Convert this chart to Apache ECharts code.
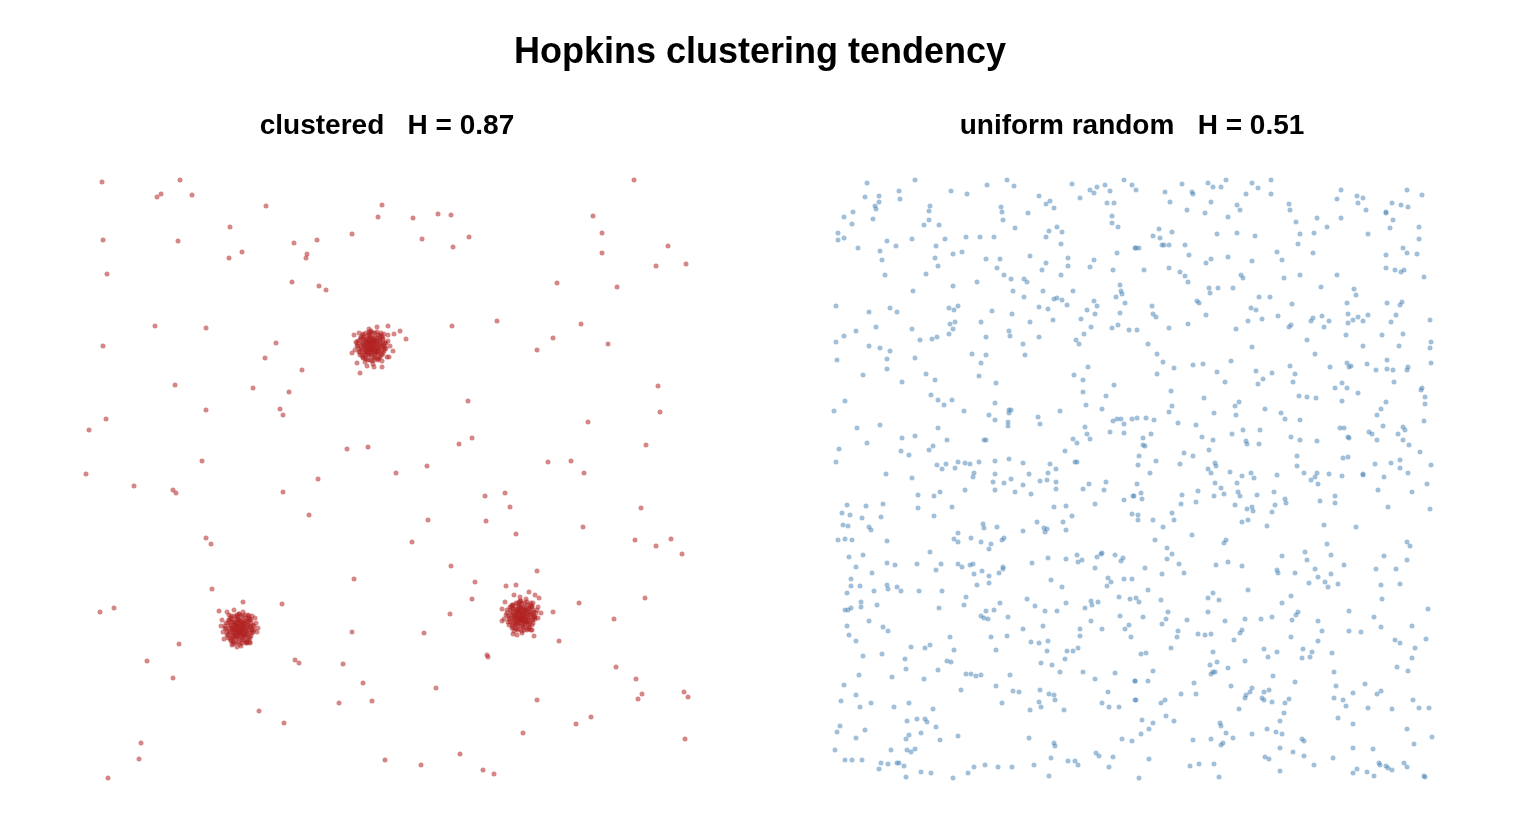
<!DOCTYPE html>
<html><head><meta charset="utf-8">
<script src="https://cdn.jsdelivr.net/npm/echarts@6/dist/echarts.min.js"></script>
<style>html,body{margin:0;padding:0;background:#fff}#c{width:1520px;height:840px}</style>
</head><body><div id="c"></div>
<script>
const mainTitle = "Hopkins clustering tendency";
const panelTitles = ["clustered   H = 0.87", "uniform random   H = 0.51"];

// clustered panel: background points
const clusteredBackground = [
[17,596],[95,598],[72,581],[76,584],[107,583],[181,572],[297,573],[293,561],[145,551],[267,544],[18,538],[93,537],[209,535],[232,538],[157,526],[144,520],[222,524],[221,520],[22,504],[207,496],[234,492],[241,488],[70,452],[121,450],[18,432],[191,435],[180,420],[217,408],[90,393],[168,390],[204,386],[121,368],[195,369],[198,363],[21,359],[4,348],[262,329],[283,331],[117,317],[1,304],
[549,598],[328,560],[353,564],[366,563],[337,539],[384,541],[368,531],[508,562],[517,545],[517,525],[583,532],[571,512],[601,514],[472,495],[532,491],[412,457],[367,452],[496,454],[468,440],[452,428],[523,434],[573,392],[575,366],[503,356],[383,377],[387,340],[374,334],[561,333],[342,312],[463,316],[486,317],[499,305],[311,305],
[49,292],[88,288],[91,285],[198,286],[233,299],[224,263],[121,240],[126,234],[269,199],[127,189],[158,176],[197,174],[15,166],[29,170],[267,146],[94,134],[62,117],[210,118],[214,115],[258,114],[88,100],[278,95],[254,75],[287,77],[174,67],[199,55],[56,35],[54,19],[23,0],[300,18],
[400,282],[420,285],[425,271],[556,270],[343,258],[401,257],[498,251],[327,236],[431,244],[550,238],[586,239],[571,232],[597,224],[366,212],[452,207],[390,196],[421,192],[431,193],[387,179],[560,180],[365,164],[494,175],[468,166],[529,159],[339,145],[474,137],[402,123],[403,121],[531,111],[551,99],[351,90],[557,84],[553,79],[599,86],[603,81],[452,78],[506,61],[491,54],[438,45],[600,39],[375,24],[336,13],[398,8],[409,4]
];
const clusterA = [
[287,431],[283,428],[290,434],[279,433],[294,429],[286,437],[282,424],[291,425],[276,430],[297,433],
[285,440],[289,421],[280,438],[295,438],[274,426],[299,427],[288,445],[278,420],[293,418],[284,434],
[281,430],[292,430],[286,426],[288,436],[277,435],[296,424],[283,443],[300,435],[272,432],[290,441],
[285,418],[279,425],[294,434],[287,428],[282,436],[291,437],[276,440],[298,440],[284,423],[289,429],
[273,437],[301,430],[286,446],[280,416],[295,421],[270,428],[303,437],[288,414],[278,444],[297,417],
[283,432],[292,427],[287,439],[281,427],[290,420],[275,423],[299,444],[285,429],[293,443],[279,441],
[269,443],[274,445],[267,425],[272,415],[275,405],[282,412],[297,411],[292,451],[303,452],[303,443],
[302,421],[309,444],[315,447],[321,439],[308,427],[304,421],[271,436],[305,432],[284,449],[289,411]
];
const clusterACore = [
[287,432],[284,435],[290,429],[282,431],[292,434],[286,428],[289,437],[281,436],[293,430],[285,425],
[288,440],[279,429],[295,436],[283,439],[291,426],[286,433],[280,433],[294,427],[287,424],[284,429],
[290,438],[282,427],[296,431],[285,436],[289,432],[278,435],[292,440],[283,425],[297,428],[286,441],
[281,439],[293,424],[288,427],[279,431],[295,433],[284,442],[290,423],[277,428],[298,435],[287,435],
[282,434],[291,432],[285,431],[288,430],[283,436],[289,426],[280,426],[294,439],[286,422],[292,437],
[276,433],[299,431],[284,438],[290,435],[287,429],[281,423],[296,441],[278,439],[293,426],[285,444],
[299,432],[298,438],[295,443],[290,445],[284,446],[278,443],[275,438],[273,432],[275,426],[278,421],
[283,418],[289,418],[294,420],[298,425],[300,429],[297,442],[292,446],[281,445],[276,441],[274,429],
[277,423],[281,419],[287,417],[293,419],[297,423],[301,435],[286,447],[272,435],[280,420],[296,445]
];
const clusterB = [
[155,148],[151,145],[158,151],[147,150],[162,146],[154,155],[150,141],[159,142],[144,147],[165,151],
[153,158],[157,138],[148,156],[163,156],[142,143],[167,145],[156,162],[146,137],[161,135],[152,152],
[149,148],[160,148],[154,144],[156,153],[145,153],[164,141],[151,161],[168,153],[140,150],[158,158],
[153,136],[147,142],[162,152],[155,145],[150,154],[159,155],[144,158],[166,158],[152,140],[157,147],
[141,155],[169,148],[154,164],[148,134],[163,138],[138,146],[171,155],[156,132],[146,162],[165,135],
[151,149],[160,144],[155,157],[149,145],[158,138],[143,140],[167,162],[153,147],[161,160],[147,159],
[134,167],[142,166],[149,168],[172,146],[147,133],[137,158],[162,135],[165,136],[139,139],[170,160],
[158,166],[144,163],[152,131],[173,150],[136,152],[163,163]
];
const clusterBCore = [
[155,149],[152,152],[158,146],[150,148],[160,151],[154,145],[157,154],[149,153],[161,147],[153,142],
[156,157],[147,146],[163,153],[151,156],[159,143],[154,150],[148,150],[162,144],[155,141],[152,146],
[158,155],[150,144],[164,148],[153,153],[157,149],[146,152],[160,157],[151,142],[165,145],[154,158],
[149,156],[161,141],[156,144],[147,148],[163,150],[152,159],[158,140],[145,145],[166,152],[155,152],
[150,151],[159,149],[153,148],[156,147],[151,153],[157,143],[148,142],[162,156],[154,139],[160,154],
[144,150],[167,148],[152,155],[158,152],[155,146],[149,140],[164,158],[146,156],[161,143],[153,161],
[167,149],[166,155],[163,160],[158,162],[152,163],[146,160],[143,155],[141,149],[143,143],[146,138],
[151,135],[157,135],[162,137],[166,142],[168,146],[165,159],[160,163],[149,162],[144,158],[142,146],
[145,140],[149,136],[155,134],[161,136],[165,140],[169,152],[154,164],[140,152],[148,137],[164,162]
];
const clusterC = [
[436,161],[432,158],[439,164],[428,163],[443,159],[435,168],[431,154],[440,155],[425,160],[446,164],
[434,171],[438,151],[429,169],[444,169],[423,156],[448,158],[437,175],[427,150],[442,148],[433,165],
[430,161],[441,161],[435,157],[437,166],[426,166],[445,154],[432,174],[449,166],[421,163],[439,171],
[434,149],[428,155],[443,165],[436,158],[431,167],[440,168],[425,171],[447,171],[433,153],[438,160],
[422,168],[450,161],[435,177],[429,147],[444,151],[419,159],[452,168],[437,145],[427,173],[446,148],
[432,162],[441,157],[436,170],[430,158],[439,151],[424,153],[448,175],[434,160],[442,173],[428,172],
[429,183],[435,181],[444,186],[450,183],[454,180],[453,171],[453,160],[449,142],[428,144],[417,157],
[417,169],[432,143],[447,148],[420,176],[456,165],[441,179]
];
const clusterCCore = [
[437,162],[434,165],[440,159],[432,161],[442,164],[436,158],[439,167],[431,166],[443,160],[435,155],
[438,170],[429,159],[445,166],[433,169],[441,156],[436,163],[430,163],[444,157],[437,154],[434,159],
[440,168],[432,157],[446,161],[435,166],[439,162],[428,165],[442,170],[433,155],[447,158],[436,171],
[431,169],[443,154],[438,157],[429,161],[445,163],[434,172],[440,153],[427,158],[448,165],[437,165],
[432,164],[441,162],[435,161],[438,160],[433,166],[439,156],[430,155],[444,169],[436,152],[442,167],
[426,163],[449,161],[434,168],[440,165],[437,159],[431,153],[446,171],[428,169],[443,156],[435,174],
[449,162],[448,168],[445,173],[440,175],[434,176],[428,173],[425,168],[423,162],[425,156],[428,151],
[433,148],[439,148],[444,150],[448,155],[450,159],[447,172],[442,176],[431,175],[426,171],[424,159],
[427,153],[431,149],[437,147],[443,149],[447,153],[451,165],[436,177],[422,165],[430,150],[446,175]
];

// uniform panel, by quadrant
const uniformQ1 = [
[35,595],[83,598],[33,581],[47,582],[47,576],[43,572],[44,569],[67,587],[68,579],[119,587],[135,584],[155,593],[175,598],[182,592],[207,582],[214,574],[218,577],[222,570],[240,594],[248,580],[258,588],[262,585],[265,591],[273,593],[278,587],[275,575],[282,575],[292,598],[300,593],
[12,561],[21,566],[20,554],[6,545],[6,538],[12,540],[41,559],[98,572],[97,567],[97,558],[92,553],[107,553],[169,571],[170,566],[171,558],[183,550],[196,565],[217,547],[225,551],[230,546],[214,541],[280,562],[280,555],[286,551],
[26,530],[55,537],[64,532],[48,527],[50,518],[80,539],[113,539],[104,532],[103,520],[106,512],[121,524],[130,526],[134,541],[148,541],[162,541],[154,519],[168,519],[165,510],[198,522],[214,515],[210,508],[229,534],[236,520],[236,512],[229,503],[262,518],[258,511],[285,525],[281,508],[303,530],
[53,503],[94,504],[81,487],[121,492],[145,496],[172,503],[179,499],[181,487],[192,499],[195,496],[192,481],[211,487],[222,479],[225,480],[230,478],[241,487],[235,473],[207,471],[216,469],[262,477],[265,472],[255,468],[263,464],[288,493],[289,487],[290,484],[284,481],[293,475],[288,465],
[4,472],[37,466],[58,470],[65,466],[44,451],[24,447],[12,442],[80,449],[117,470],[122,468],[126,472],[118,454],[123,456],[121,449],[117,444],[149,456],[160,467],[180,464],[198,456],[221,458],[177,447],[178,442],[154,441],[207,441],[249,459],[259,451],[252,444],[280,450],[286,453],[297,448],
[4,436],[37,432],[48,430],[58,427],[55,419],[55,409],[5,418],[88,438],[100,439],[105,441],[83,420],[140,424],[154,423],[149,415],[191,434],[193,423],[244,438],[247,434],[256,411],
[31,403],[70,396],[94,404],[103,398],[147,402],[164,395],[99,383],[106,378],[112,373],[120,378],[163,375],[242,403],[251,398],[251,386],[282,393],[274,382],[254,373],[13,377],[2,367],
[25,350],[48,353],[132,367],[157,363],[163,358],[177,368],[179,368],[177,365],[176,356],[176,352],[206,361],[208,354],[228,367],[270,369],[281,357],[285,359],[289,359],[300,359],[292,354],[278,346],[292,345],[253,351],[255,344],[70,340],[83,342],[106,350],
[7,329],[35,335],[4,316],[69,327],[77,323],[97,328],[101,332],[115,338],[152,338],[154,338],[105,313],[110,309],[114,314],[123,310],[126,316],[133,315],[138,314],[147,316],[163,317],[177,319],[191,315],[218,314],[224,309],[233,327],[241,339],[245,335],[258,339],[243,316],[245,316],[54,304],[142,305],[163,304],[197,304],[216,305]
];
const uniformQ2 = [
[304,588],[333,586],[338,576],[350,594],[360,586],[361,584],[355,568],[376,595],[381,591],[389,591],[394,598],[379,576],[373,565],[396,561],[405,573],[408,568],[414,584],[420,595],[426,590],[439,598],[439,584],[457,574],[458,568],[464,556],[485,560],[495,551],[505,579],[509,588],[509,560],[525,582],[531,580],[526,575],[534,568],[536,544],[554,566],[554,565],[560,575],[569,573],[576,571],[575,588],[590,583],[561,558],[558,550],[587,551],[587,539],
[327,549],[321,542],[328,540],[340,546],[330,533],[332,533],[337,533],[304,530],[307,530],[353,533],[357,523],[385,544],[405,545],[423,542],[374,515],[379,519],[396,521],[420,517],[312,508],[337,510],[348,506],[353,502],[356,496],[445,526],[450,518],[468,544],[466,534],[482,545],[481,525],[468,503],[452,500],[505,503],[554,523],[554,510],[563,508],[569,506],[572,508],[571,530],[575,525],[585,524],[592,501],
[409,503],[411,500],[377,490],[378,485],[386,490],[401,490],[365,477],[367,475],[320,472],[321,464],[324,461],[374,463],[356,454],[337,450],[305,448],[427,481],[438,481],[419,470],[424,468],[430,459],[416,457],[404,449],[446,462],[460,474],[457,451],[459,453],[489,491],[479,457],[481,460],[490,462],[497,457],[492,451],[515,475],[522,489],[524,483],[516,464],[521,458],[526,461],[531,457],[536,463],[516,455],[555,475],[568,473],[570,476],[564,463],[559,456],[598,458],
[316,434],[325,424],[331,416],[325,404],[342,410],[361,413],[371,414],[385,406],[399,417],[393,396],[420,431],[424,407],[431,399],[426,394],[440,405],[475,438],[483,424],[458,412],[463,404],[461,396],[498,411],[514,443],[531,432],[550,443],[571,444],[567,432],[515,415],[517,411],[519,412],[535,414],[544,408],[555,418],[555,409],[561,408],[575,408],[576,411],[562,396],[599,436],[598,430],[599,415],[503,390],[510,395],[515,390],[526,385],[510,377],
[339,387],[340,372],[337,366],[305,360],[314,360],[322,358],[346,355],[364,353],[372,380],[382,365],[403,372],[407,376],[404,363],[433,369],[449,365],[453,359],[468,358],[467,382],[475,381],[484,380],[411,348],[428,348],[400,344],[414,337],[415,334],[427,334],[370,341],[381,338],[319,344],[311,340],[311,333],[313,332],[459,341],[468,338],[485,337],[508,350],[512,350],[516,341],[517,340],[537,346],[540,344],[545,338],[551,352],[545,363],[549,369],[554,376],[566,344],[571,351],[573,348],[571,338],[577,333],[590,390],[589,388],[593,381],[593,374],[592,357],[588,326],
[307,322],[306,313],[324,317],[318,305],[352,325],[361,322],[348,314],[377,328],[383,315],[384,312],[376,309],[379,305],[398,306],[419,305],[465,322],[465,312],[472,305],[485,305],[497,304],[511,320],[516,321],[531,304],[543,314],[559,315],[568,318],[568,310],[576,305],[599,313]
];
const uniformQ3 = [
[80,300],[141,301],[161,296],[163,288],[172,295],[179,299],[183,286],[191,293],[199,284],[208,297],[215,298],[224,296],[224,289],[251,289],[257,294],[274,296],[272,288],[301,282],[292,278],[86,283],[86,270],[102,282],[108,286],[133,288],[120,271],[102,262],[15,273],[34,272],[51,274],[10,265],[18,263],[30,260],[49,261],[222,271],[234,272],[240,262],[263,274],[300,264],
[11,253],[16,252],[37,251],[39,248],[6,238],[13,239],[20,238],[55,237],[126,245],[122,239],[126,236],[139,240],[151,254],[152,250],[165,251],[149,236],[159,234],[157,229],[170,238],[172,240],[191,247],[205,256],[212,250],[215,249],[213,246],[231,256],[234,248],[98,226],[17,221],[31,223],
[24,211],[55,215],[63,213],[85,214],[109,214],[104,208],[126,214],[130,211],[138,213],[141,214],[142,204],[150,207],[157,202],[157,195],[167,205],[171,211],[171,209],[200,215],[216,220],[234,219],[245,223],[246,216],[250,218],[265,221],[269,224],[270,225],[283,223],[289,217],[291,220],[263,210],[276,200],[279,196],[275,192],[292,199],[300,199],[219,198],[230,191],[40,205],[19,199],[19,192],[28,192],[55,193],[56,189],[65,191],[69,187],[87,187],[110,187],[42,187],[15,185],[145,193],[134,181],[132,173],[195,179],[203,172],[213,167],[225,167],[234,175],[253,170],[259,177],[260,173],[266,176],[287,181],[298,179],
[29,176],[29,171],[13,168],[16,168],[19,170],[45,173],[107,170],[37,157],[15,152],[17,143],[24,137],[51,151],[56,147],[149,162],[152,160],[156,159],[154,167],[162,168],[168,175],[176,161],[191,149],[175,142],[159,141],[118,141],[164,128],[211,152],[199,136],[207,135],[216,137],[215,127],[235,127],[241,127],[246,130],[248,149],[248,142],[259,157],[270,149],[288,162],[297,153],[293,149],[299,141],[79,131],[93,130],[98,133],[122,128],[50,124],[31,122],
[73,119],[74,109],[115,117],[119,116],[106,108],[134,104],[139,104],[144,102],[149,103],[178,103],[164,92],[129,88],[92,99],[60,101],[27,103],[12,93],[24,83],[9,77],[28,71],[39,75],[62,71],[77,75],[170,75],[181,87],[187,86],[208,88],[209,115],[220,113],[228,106],[233,119],[251,106],[263,99],[283,105],[303,97],[276,86],[270,75],[277,71],[287,71],[303,78],[217,84],[222,83],[223,78],[207,76],[209,71],[198,68],[232,68],
[101,69],[75,57],[85,59],[93,59],[95,56],[104,51],[89,45],[77,43],[74,39],[108,38],[126,42],[8,52],[5,46],[33,48],[24,40],[3,28],[59,28],[75,28],[79,26],[83,29],[13,18],[20,18],[30,18],[49,15],[47,9],[56,14],[65,15],[67,15],[72,12],[74,1],[89,6],[99,5],[121,0],[136,5],[142,11],[153,13],[166,11],[180,11],[197,40],[202,13],[217,2],[219,20],[222,35],[223,32],[236,17],[243,17],[246,13],[264,25],[267,22],[281,21],[277,11],[290,39],[300,37]
];
const uniformQ4 = [
[305,294],[302,282],[309,285],[310,279],[306,263],[306,258],[321,258],[331,251],[340,265],[342,258],[349,274],[350,283],[364,276],[366,287],[383,295],[382,282],[389,290],[392,284],[405,295],[406,286],[408,282],[410,302],[422,300],[425,283],[403,273],[415,269],[420,271],[421,267],[410,256],[416,258],[435,252],[445,303],[442,286],[443,273],[440,266],[453,279],[454,275],[479,298],[483,301],[486,294],[488,277],[503,282],[503,275],[510,302],[531,303],[552,301],[546,288],[556,271],[595,294],[580,286],[598,269],[492,253],[524,251],
[323,238],[335,230],[340,224],[335,219],[347,214],[352,205],[330,204],[313,210],[360,243],[394,238],[392,235],[396,216],[384,213],[410,212],[450,222],[445,208],[446,205],[463,205],[473,226],[475,218],[483,209],[486,201],[477,195],[493,196],[496,191],[499,204],[499,223],[506,194],[495,234],[512,213],[552,222],[544,209],[549,193],[564,209],[568,194],[575,236],[578,232],[575,218],
[316,188],[304,180],[307,176],[329,178],[311,161],[336,166],[334,159],[330,154],[355,158],[346,147],[345,141],[339,130],[376,180],[381,185],[387,178],[376,166],[416,188],[393,157],[413,159],[429,159],[440,161],[459,182],[450,175],[466,166],[464,163],[460,158],[486,157],[490,147],[486,137],[459,141],[517,167],[517,147],[529,146],[542,161],[549,151],[550,179],[596,169],[580,152],[594,139],[563,138],[568,135],[583,130],
[366,144],[373,143],[379,144],[410,148],[408,145],[402,138],[381,126],[385,116],[378,113],[381,106],[379,104],[383,106],[396,110],[399,92],[413,117],[432,129],[436,121],[445,126],[441,102],[463,96],[471,129],[470,120],[478,121],[480,126],[500,125],[502,106],[504,92],[502,80],[511,78],[514,72],[521,85],[533,94],[545,84],[549,87],[565,111],[576,107],[580,120],[309,124],[314,125],[321,107],[303,97],[316,97],[362,95],[349,84],[364,84],
[304,78],[329,75],[333,78],[334,62],[342,57],[310,58],[321,55],[317,49],[309,44],[317,19],[307,0],[413,80],[414,83],[418,86],[420,90],[430,80],[432,78],[432,86],[437,88],[440,76],[453,75],[457,79],[452,65],[448,57],[435,49],[444,46],[450,44],[420,44],[407,69],[388,55],[389,52],[394,45],[401,40],[379,39],[361,38],[391,35],[389,33],[470,39],[472,37],[448,30],[461,26],[472,22],[506,60],[521,54],[536,70],[560,69],[581,78],[587,70],[597,70],[575,49],[600,41],[582,34],[521,30],[541,29],
[433,21],[437,19],[448,7],[482,13],[501,20],[358,12],[367,14],[382,14],[387,1],[521,5],[525,9],[535,6],[542,2],[547,15],[548,13],[554,12],[556,10],[560,8],[572,15],[575,11],[592,2],[593,1]
];

const FONT = "'Liberation Sans', Arial, Helvetica, sans-serif";
const RED = 'rgba(178,34,34,0.68)';
const BLUE = 'rgba(70,130,180,0.64)';

const chart = echarts.init(document.getElementById('c'), null, {renderer: 'canvas'});
const hiddenAxis = (gi, max) => ({gridIndex: gi, type: 'value', min: 0, max: max, show: false});
function scatter(name, data, xi, color) {
  return {name, type: 'scatter', xAxisIndex: xi, yAxisIndex: xi, data, symbol: 'circle',
    symbolSize: 5, itemStyle: {color: color}, clip: false, silent: true, animation: false};
}
chart.setOption({
  backgroundColor: '#ffffff',
  animation: false,
  title: [
    {text: mainTitle, left: 'center', top: 35, padding: 0,
     textStyle: {fontFamily: FONT, fontSize: 36, fontWeight: 'bold', color: '#000'}},
    {text: panelTitles[0], left: 387, top: 112, textAlign: 'center', padding: 0,
     textStyle: {fontFamily: FONT, fontSize: 28, fontWeight: 'bold', color: '#000'}},
    {text: panelTitles[1], left: 1132, top: 112, textAlign: 'center', padding: 0,
     textStyle: {fontFamily: FONT, fontSize: 28, fontWeight: 'bold', color: '#000'}}
  ],
  grid: [
    {left: 85, top: 178, width: 605, height: 600},
    {left: 832, top: 178, width: 601, height: 600}
  ],
  xAxis: [hiddenAxis(0, 605), hiddenAxis(1, 601)],
  yAxis: [hiddenAxis(0, 600), hiddenAxis(1, 600)],
  series: [
    scatter('background', clusteredBackground, 0, RED),
    scatter('cluster A', clusterA, 0, RED),
    scatter('cluster A core', clusterACore, 0, RED),
    scatter('cluster B', clusterB, 0, RED),
    scatter('cluster B core', clusterBCore, 0, RED),
    scatter('cluster C', clusterC, 0, RED),
    scatter('cluster C core', clusterCCore, 0, RED),
    scatter('uniform 1', uniformQ1, 1, BLUE),
    scatter('uniform 2', uniformQ2, 1, BLUE),
    scatter('uniform 3', uniformQ3, 1, BLUE),
    scatter('uniform 4', uniformQ4, 1, BLUE)
  ]
});
</script>
</body></html>
